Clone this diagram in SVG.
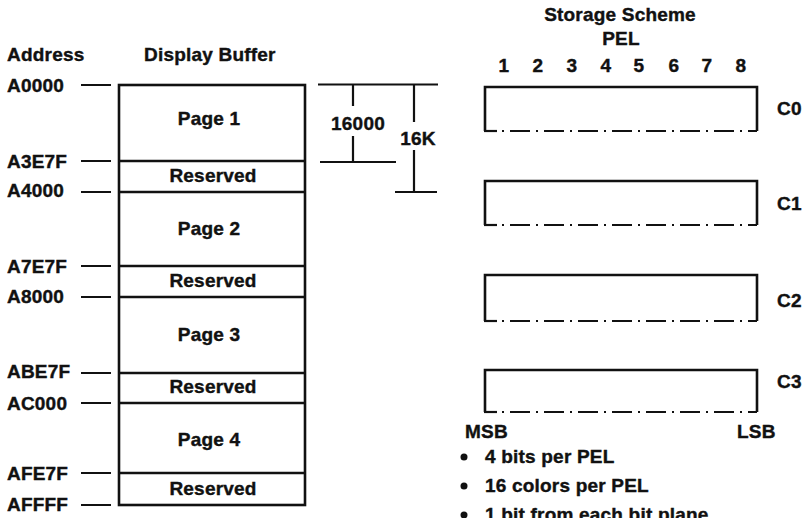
<svg xmlns="http://www.w3.org/2000/svg" width="806" height="518" viewBox="0 0 806 518">
<style>
  text { font-family: "Liberation Sans", Arial, Helvetica, sans-serif; font-weight: bold; font-size: 19px; letter-spacing: 0.2px; fill: #111; stroke: #111; stroke-width: 0.4px; }
  .mid { text-anchor: middle; }
  .ln { stroke: #111; stroke-width: 2.2; fill: none; }
  .box { stroke: #111; stroke-width: 2.6; fill: none; }
  .dd { stroke: #111; stroke-width: 2.2; fill: none; stroke-dasharray: 2 6 20 6; }
</style>
<rect width="806" height="518" fill="#fff"/>

<g id="headers">
  <text x="7" y="61">Address</text>
  <text x="144" y="61">Display Buffer</text>
</g>

<g id="addresses">
  <text x="7" y="92">A0000</text>
  <text x="7" y="168">A3E7F</text>
  <text x="7" y="197">A4000</text>
  <text x="7" y="273">A7E7F</text>
  <text x="7" y="303">A8000</text>
  <text x="7" y="378">ABE7F</text>
  <text x="7" y="410">AC000</text>
  <text x="7" y="480">AFE7F</text>
  <text x="7" y="511">AFFFF</text>
</g>

<g id="display-buffer">
  <rect class="box" x="119" y="85" width="186" height="420"/>
  <path class="box" d="M119 161H305M119 192H305M119 266H305M119 297H305M119 373H305M119 403H305M119 473H305"/>
  <text class="mid" x="209" y="125">Page 1</text>
  <text class="mid" x="213" y="182">Reserved</text>
  <text class="mid" x="209" y="235">Page 2</text>
  <text class="mid" x="213" y="287">Reserved</text>
  <text class="mid" x="209" y="341">Page 3</text>
  <text class="mid" x="213" y="393">Reserved</text>
  <text class="mid" x="209" y="446">Page 4</text>
  <text class="mid" x="213" y="495">Reserved</text>
</g>

<g id="connectors">
  <path class="ln" d="M81 85H111M81 161H111M81 192H111M81 266H111M81 297H111M81 373H111M81 403H111M81 473H111M81 505H111"/>
  <path class="ln" d="M318 84.5H438M353 84.5V106M353 136V162M320 162H396M414 84.5V122M414 150V192M395 192H437"/>
</g>

<g id="dimensions">
  <text class="mid" x="358" y="130">16000</text>
  <text class="mid" x="418" y="145">16K</text>
</g>

<g id="storage-header">
  <text class="mid" x="620" y="21">Storage Scheme</text>
  <text class="mid" x="621" y="45">PEL</text>
  <text class="mid" x="504" y="72">1</text>
  <text class="mid" x="538" y="72">2</text>
  <text class="mid" x="572" y="72">3</text>
  <text class="mid" x="606" y="72">4</text>
  <text class="mid" x="639" y="72">5</text>
  <text class="mid" x="674" y="72">6</text>
  <text class="mid" x="707" y="72">7</text>
  <text class="mid" x="741" y="72">8</text>
</g>

<g id="plane-c0">
  <path class="box" d="M485 131V87H757V131"/>
  <path class="ln" d="M484 131H497"/>
  <path class="dd" d="M502 131H757"/>
  <text x="777" y="115">C0</text>
</g>
<g id="plane-c1">
  <path class="box" d="M485 225V181H757V225"/>
  <path class="ln" d="M484 225H497"/>
  <path class="dd" d="M502 225H757"/>
  <text x="777" y="210">C1</text>
</g>
<g id="plane-c2">
  <path class="box" d="M485 321V275H757V321"/>
  <path class="ln" d="M484 321H497"/>
  <path class="dd" d="M502 321H757"/>
  <text x="777" y="307">C2</text>
</g>
<g id="plane-c3">
  <path class="box" d="M485 412V370H757V412"/>
  <path class="ln" d="M484 412H497"/>
  <path class="dd" d="M502 412H757"/>
  <text x="777" y="388">C3</text>
  <text x="465" y="438">MSB</text>
  <text x="737" y="438">LSB</text>
</g>

<g id="notes">
  <circle cx="464" cy="457" r="3.5" fill="#111"/>
  <circle cx="464" cy="486" r="3.5" fill="#111"/>
  <circle cx="464" cy="515" r="3.5" fill="#111"/>
  <text x="485" y="463">4 bits per PEL</text>
  <text x="485" y="492">16 colors per PEL</text>
  <text x="485" y="521">1 bit from each bit plane</text>
</g>
</svg>
